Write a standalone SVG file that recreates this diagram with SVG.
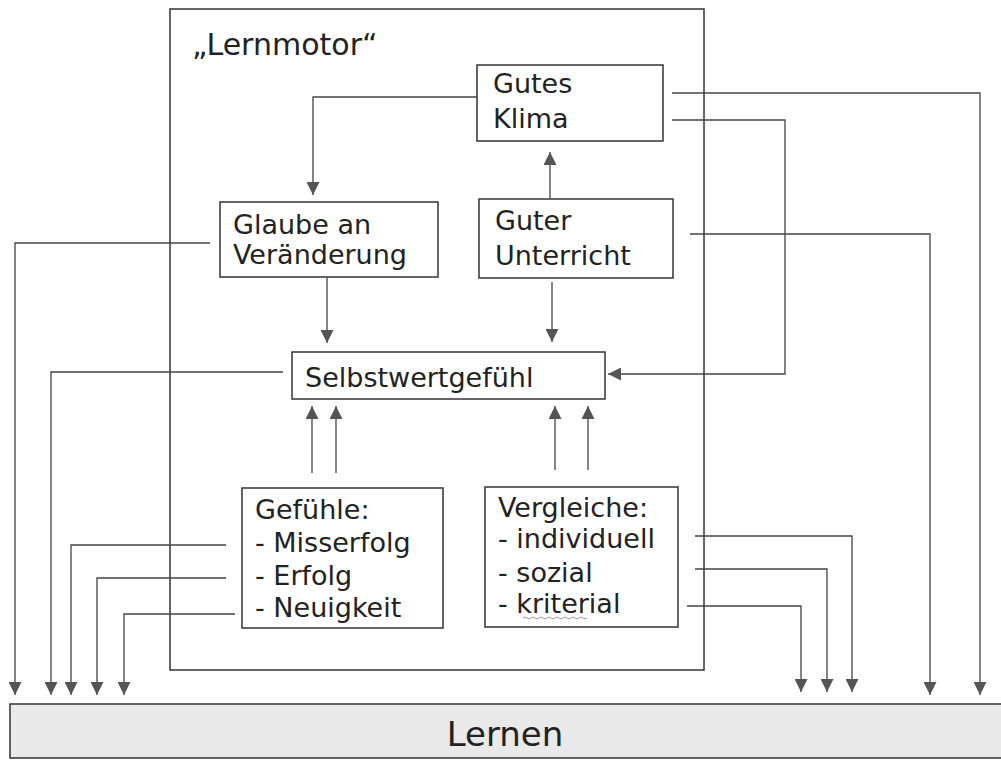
<svg xmlns="http://www.w3.org/2000/svg" width="1001" height="765" viewBox="0 0 1001 765">
<defs>
<marker id="ah" viewBox="0 0 12 12" refX="12" refY="6" markerWidth="13" markerHeight="13" markerUnits="userSpaceOnUse" orient="auto">
<path d="M0,0 L12,6 L0,12 z" fill="#555"/>
</marker>
<style>
.box{fill:#fff;stroke:#333;stroke-width:1.5}
.t{font-family:"DejaVu Sans",Verdana,sans-serif;font-size:27px;fill:#222}
.c{fill:none;stroke:#444;stroke-width:1.3}
.a{marker-end:url(#ah)}
</style>
</defs>
<rect width="1001" height="765" fill="#fff"/>

<g id="lernen">
<rect x="10" y="704" width="995" height="54" fill="#e9e9e9" stroke="#333" stroke-width="1.5"/>
<text class="t" x="505" y="746" text-anchor="middle" style="font-size:34px">Lernen</text>
</g>

<g id="lernmotor">
<rect x="170" y="9" width="534" height="661" fill="none" stroke="#333" stroke-width="1.5"/>
<text class="t" x="192" y="55" style="font-size:30px">„Lernmotor“</text>
</g>

<g id="gutes-klima">
<rect class="box" x="477" y="65" width="186" height="76"/>
<text class="t" x="493" y="93">Gutes</text>
<text class="t" x="493" y="128">Klima</text>
</g>

<g id="glaube">
<rect class="box" x="220" y="202" width="218" height="75"/>
<text class="t" x="233" y="234">Glaube an</text>
<text class="t" x="233" y="264">Veränderung</text>
</g>

<g id="guter-unterricht">
<rect class="box" x="479" y="199" width="194" height="79"/>
<text class="t" x="495" y="230">Guter</text>
<text class="t" x="495" y="265">Unterricht</text>
</g>

<g id="selbstwert">
<rect class="box" x="292" y="352" width="313" height="47"/>
<text class="t" x="305" y="387">Selbstwertgefühl</text>
</g>

<g id="gefuehle">
<rect class="box" x="242" y="488" width="201" height="140"/>
<text class="t" x="255" y="519">Gefühle:</text>
<text class="t" x="255" y="552">- Misserfolg</text>
<text class="t" x="255" y="585">- Erfolg</text>
<text class="t" x="255" y="617">- Neuigkeit</text>
</g>

<g id="vergleiche">
<rect class="box" x="485" y="487" width="193" height="140"/>
<text class="t" x="498" y="517">Vergleiche:</text>
<text class="t" x="498" y="548">- individuell</text>
<text class="t" x="498" y="582">- sozial</text>
<text class="t" x="498" y="613">- kriterial</text>
<path d="M523,618 q2,-2 4,0 t4,0 t4,0 t4,0 t4,0 t4,0 t4,0 t4,0 t4,0 t4,0 t4,0 t4,0 t4,0 t4,0 t4,0 t4,0" fill="none" stroke="#999" stroke-width="1"/>
</g>

<g id="connectors">
<path class="c a" d="M477,97 H313 V195"/>
<path class="c a" d="M550,198 V152"/>
<path class="c a" d="M327,277 V343"/>
<path class="c a" d="M552,282 V342"/>
<path class="c a" d="M672,120 H785 V374 H608"/>
<path class="c a" d="M672,93 H980 V695"/>
<path class="c a" d="M690,234 H930 V695"/>
<path class="c a" d="M210,243 H15 V695"/>
<path class="c a" d="M283,372 H51 V695"/>
<path class="c a" d="M226,545 H71 V695"/>
<path class="c a" d="M226,578 H97 V695"/>
<path class="c a" d="M235,614 H124 V695"/>
<path class="c a" d="M695,536 H852 V692"/>
<path class="c a" d="M695,569 H827 V692"/>
<path class="c a" d="M687,606 H801 V692"/>
<path class="c a" d="M312,473 V406"/>
<path class="c a" d="M336,473 V406"/>
<path class="c a" d="M555,470 V406"/>
<path class="c a" d="M588,470 V406"/>
</g>
</svg>
